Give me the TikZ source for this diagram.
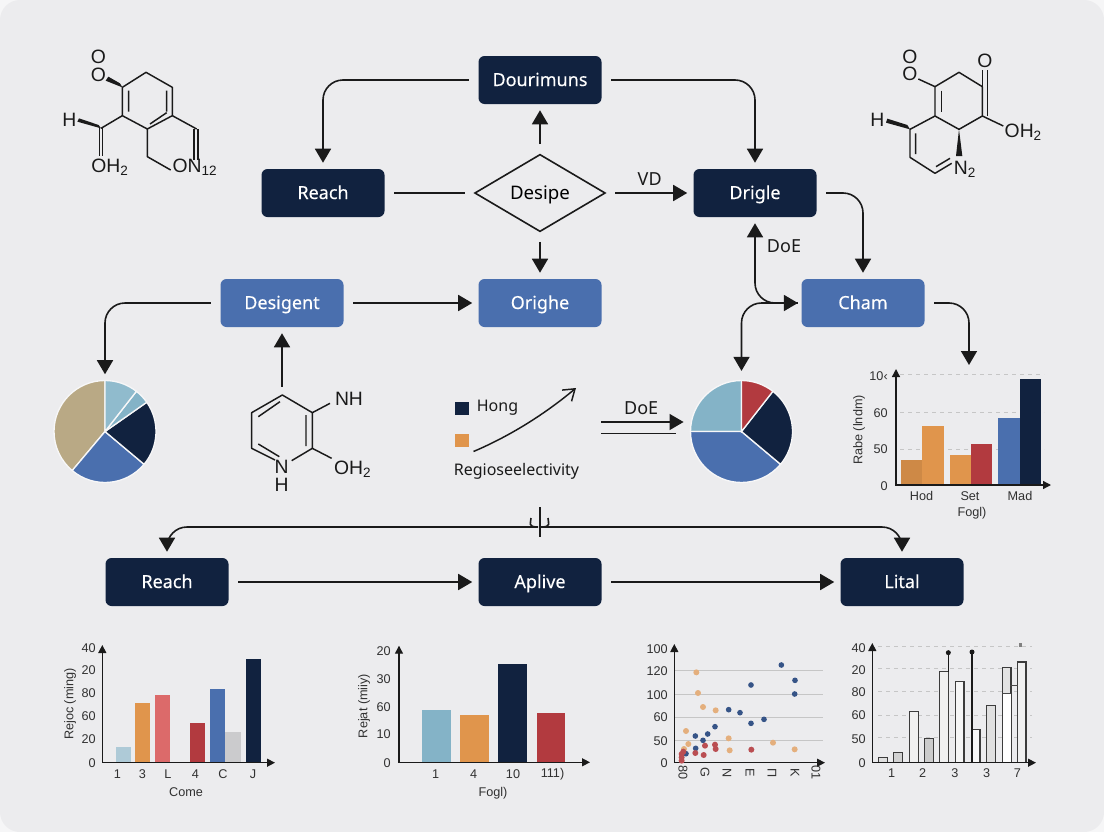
\documentclass[tikz,border=0pt]{standalone}
\usepackage{fontspec}
\setmainfont{Liberation Sans}
\newfontfamily\boxfont[FakeBold=.25]{Noto Sans}
\newfontfamily\tagfont{Noto Sans}
\usetikzlibrary{positioning,shapes.geometric,arrows.meta}
\definecolor{pagebg}{HTML}{ECECEE}
\definecolor{navy}{HTML}{11223F}
\definecolor{steel}{HTML}{4A6FAE}
\definecolor{amber}{HTML}{E0954C}
\definecolor{brick}{HTML}{B23A3F}
\definecolor{salmon}{HTML}{DC6A6A}
\definecolor{teal}{HTML}{84B3C7}
\definecolor{khaki}{HTML}{B9A985}
\definecolor{ink}{HTML}{1A1A1A}

\begin{document}
\begin{tikzpicture}[
  x=.75pt, y=-.75pt,
  box/.style={rectangle, rounded corners=4.5pt, minimum width=92.25pt, minimum height=36pt,
    inner sep=0pt, text=white, text height=11pt, text depth=2pt, font=\boxfont\bfseries\fontsize{13.5}{15}\selectfont},
  darkbox/.style={box, fill=navy},
  bluebox/.style={box, fill=steel},
  deci/.style={diamond, draw=ink, line width=1.2pt, aspect=1.7, minimum width=98pt, minimum height=58pt,
    inner sep=0pt, text height=11pt, text depth=2pt, font=\tagfont\fontsize{14}{15}\selectfont},
  piec/.style={circle, minimum size=76.5pt, inner sep=0pt},
  flow/.style={draw=ink, line width=1.2pt, rounded corners=15pt, shorten <=7pt, shorten >=4.5pt,
    -{Triangle[length=10.5pt,width=12pt]}},
  plainflow/.style={draw=ink, line width=1.2pt, shorten <=7pt, shorten >=7pt},
  tag/.style={font=\tagfont\fontsize{13.5}{15}\selectfont, text=ink},
  legendtag/.style={font=\tagfont\fontsize{12}{14}\selectfont, text=ink},
  bond/.style={draw=ink, line width=1.1pt, line join=round},
  atom/.style={font=\fontsize{14.5}{16}\selectfont, text=ink, inner sep=0pt},
  axisline/.style={draw=ink, line width=1pt, {Triangle[length=6pt,width=6pt]}-{Triangle[length=6pt,width=6pt]}},
  gridline/.style={draw=gray!45, line width=.5pt},
  griddash/.style={gridline, dashed},
  tick/.style={font=\fontsize{9.5}{11}\selectfont, text=ink!90, inner sep=0pt},
  axlabel/.style={tick},
  slice/.style={draw=white!60!pagebg, line width=1pt},
  barbox/.style={draw=ink!85, line width=.9pt}
]
  \useasboundingbox (0,0) rectangle (1104,832);
  \fill[white!50!pagebg] (0,0) rectangle (1104,832);
  \fill[pagebg, rounded corners=15pt] (0,0) rectangle (1104,832);

  % flow boxes
  \node[darkbox] (dourimuns) at (540,80) {Dourimuns};
  \node[darkbox] (reach) at (323,193) {Reach};
  \node[deci] (desipe) at (540,193) {Desipe};
  \node[darkbox] (drigle) at (755,193) {Drigle};
  \node[bluebox] (desigent) at (282,303) {Desigent};
  \node[bluebox] (orighe) at (540,303) {Orighe};
  \node[bluebox] (cham) at (863,303) {Cham};
  \node[darkbox] (reachB) at (167,582) {Reach};
  \node[darkbox] (aplive) at (540,582) {Aplive};
  \node[darkbox] (lital) at (902,582) {Lital};

  \node[piec] (pieA) at (105,431.5) {};
  \node[piec] (pieB) at (741.5,431.5) {};
  \coordinate (molC) at (282,396);
  \coordinate (chartC) at (969,371);
  \coordinate (doeA) at (601,422);
  \coordinate (doeB) at (601,433.5);
  \coordinate (doeC) at (676,433.5);
  \coordinate (teeT) at (540,507);
  \coordinate (teeB) at (540,537);
  \coordinate (teeL) at (531,518);
  \coordinate (teeLb) at (518,527);
  \coordinate (teeR) at (548,518);
  \coordinate (teeRb) at (561,527);
  \coordinate (trendA) at (473.5,451.5);
  \coordinate (trendB) at (576,388);

  % connectors
  \draw[flow] (dourimuns.west) -| (reach.north);
  \draw[flow] (dourimuns.east) -| (drigle.north);
  \draw[flow] (desipe.north) -- (dourimuns.south);
  \draw[plainflow] (reach.east) -- (desipe.west);
  \draw[flow] (desipe.east) -- node[tag, above=2pt] {VD} (drigle.west);
  \draw[flow] (desipe.south) -- (orighe.north);
  \draw[flow] (drigle.east) -| (cham.north);
  \draw[flow] (desigent.west) -| (pieA.north);
  \draw[flow] (desigent.east) -- (orighe.west);
  \draw[flow] (molC) -- (desigent.south);
  \draw[flow] (cham.east) -| (chartC);
  \draw[flow, shorten >=2.5pt, {Triangle[length=10.5pt,width=12pt]}-{Triangle[length=10.5pt,width=12pt]}, shorten <=7pt]
    (pieB.north) |- (cham.west);
  \draw[flow, shorten <=4.5pt, shorten >=2.5pt, {Triangle[length=10.5pt,width=12pt]}-] (drigle.south) |- (cham.west);
  \node[tag] (doeUp) at (784,246) {DoE};
  \draw[flow, line width=1pt, shorten <=0pt, shorten >=5pt] (doeA) -- node[tag, above=2pt, pos=.45] {DoE} (doeA -| pieB.west);
  \draw[draw=ink, line width=1pt] (doeB) -- (doeC);
  \draw[plainflow, shorten <=0pt, shorten >=0pt] (teeT) -- (teeB);
  \draw[flow, shorten <=0pt] (teeL) .. controls (531,523) and (527,527) .. (teeLb) -| (reachB.north);
  \draw[flow, shorten <=0pt] (teeR) .. controls (548,523) and (552,527) .. (teeRb) -| (lital.north);
  \draw[flow] (reachB.east) -- (aplive.west);
  \draw[flow] (aplive.east) -- (lital.west);

  % pies
  \foreach \from/\to/\col in {90/230/khaki, 230/320/steel, 320/395/navy, 395/412/teal, 412/450/teal!90!white}
    \fill[\col, slice] (pieA.center) -- ++(-\from:51) arc[start angle=-\from, end angle=-\to, radius=51] -- cycle;
  \foreach \from/\to/\col in {90/180/teal, 180/320/steel, 320/412/navy, 412/450/brick}
    \fill[\col, slice] (pieB.center) -- ++(-\from:51) arc[start angle=-\from, end angle=-\to, radius=51] -- cycle;

  % legend
  \fill[navy] (455,402) rectangle (468.5,415);
  \fill[amber] (455,433.5) rectangle (469,447);
  \node[legendtag] (hong) at (497.5,408) {Hong};
  \node[legendtag] (regio) at (516.5,471) {Regioseelectivity};
  \draw[draw=ink, line width=1.1pt, -{Straight Barb[length=8pt,width=11pt]}] (trendA) .. controls (510,436) and (545,414) .. (trendB);

  % left molecule
  \begin{scope}[shift={(40,30)}, x=.25pt, y=-.25pt]
    \draw[bond] (247,172) -- (318,127) -- (397,172) -- (397,257) -- (322,297) -- (247,257) -- cycle;
    \draw[bond] (266,182) -- (266,245) (380,182) -- (380,245) (330,282) -- (380,248);
    \draw[bond] (247,257) -- (183,295) (322,297) -- (322,380) -- (392,420) (397,257) -- (470,297);
    \draw[bond] (178,295) -- (178,378) (188,295) -- (188,378) (462,297) -- (462,390) (474,297) -- (474,390);
    \fill[ink] (247,172) -- (197,152) -- (205,140) -- (240,160) -- cycle;
    \fill[ink] (183,295) -- (112,275) -- (117,265) -- (176,285) -- cycle;
    \node[atom] (mAo) at (175,80) {O};
    \node[atom] (mAp) at (175,135) {O};
    \node[atom] (mAh) at (88,270) {H};
    \node[atom] (mAq) at (210,412) {OH\textsubscript{2}};
    \node[atom] (mAn) at (465,412) {ON\textsubscript{12}};
  \end{scope}

  % right molecule
  \begin{scope}[shift={(860,30)}, x=.25pt, y=-.25pt]
    \draw[bond] (225,170) -- (297,127) -- (367,170) -- (367,258) -- (297,298) -- (225,258) -- cycle;
    \draw[bond] (244,182) -- (244,245) (383,120) -- (383,258) (367,120) -- (367,170);
    \draw[bond] (175,147) -- (225,170) (367,258) -- (430,288) (225,258) -- (150,298) -- (150,382) -- (225,430) -- (275,400);
    \draw[bond] (167,310) -- (167,372) (228,410) -- (270,385);
    \fill[ink] (150,298) -- (78,278) -- (82,266) -- (142,285) -- cycle;
    \fill[ink] (297,298) -- (288,378) -- (307,378) -- cycle;
    \node[atom] (mBo) at (150,80) {O};
    \node[atom] (mBp) at (150,133) {O};
    \node[atom] (mBr) at (375,92) {O};
    \node[atom] (mBh) at (52,270) {H};
    \node[atom] (mBq) at (490,307) {OH\textsubscript{2}};
    \node[atom] (mBn) at (315,417) {N\textsubscript{2}};
  \end{scope}

  % middle molecule
  \begin{scope}[shift={(230,340)}, x=.25pt, y=-.25pt]
    \draw[bond] (135,360) -- (65,325) -- (65,218) -- (157,165) -- (247,218) -- (247,325) -- (185,362);
    \draw[bond] (150,185) -- (85,230) (85,312) -- (148,350) (228,225) -- (228,318);
    \draw[bond] (247,218) -- (300,190) (247,325) -- (305,355);
    \node[atom] (mCn) at (155,380) {N};
    \node[atom] (mCh) at (155,435) {H};
    \node[atom] (mCa) at (357,178) {NH};
    \node[atom] (mCq) at (368,387) {OH\textsubscript{2}};
  \end{scope}

  % chart right of the flow
  \foreach \yy in {374,412,449} \draw[griddash] (900,\yy) -- (1044,\yy);
  \foreach \xa/\xb/\yy/\col in {900.7/922.3/460/amber!92!black, 922.3/944/426/amber, 950/971/455.3/amber, 971/992/444.3/brick, 998.3/1020/418.3/steel, 1020/1041.3/379.3/navy}
    \fill[\col] (\xa,\yy) rectangle (\xb,485);
  \draw[axisline] (896,369) -- (896,485) -- (1051,485);
  \foreach \yy/\txt in {376/10‹, 413/60, 449/50, 486/0} \node[tick, anchor=east] at (888,\yy) {\txt};
  \foreach \xx/\txt in {921.5/Hod, 970/Set, 1020/Mad} \node[tick] at (\xx,496) {\txt};
  \node[axlabel] at (972,513) {Fogl)};
  \node[axlabel, rotate=90] at (859,430) {Rabe (lndm)};

  % bottom chart one
  \foreach \xa/\xb/\yy/\col in {116/131/746.7/teal!60!pagebg, 135/150/703/amber, 155/170/694.7/salmon, 190/205/723.3/brick, 209.7/225/689/steel, 225/241/732/gray!30!pagebg, 245.7/261/659/navy}
    \fill[\col] (\xa,\yy) rectangle (\xb,762.7);
  \draw[axisline] (102.3,645) -- (102.3,762.7) -- (275,762.7);
  \foreach \yy/\txt in {648.5/40, 670/20, 693/80, 716/60, 739/20, 763/0} \node[tick, anchor=east] at (96,\yy) {\txt};
  \foreach \xx/\txt in {117.5/1, 142.5/3, 168/L, 195.5/4, 223/C, 253/J} \node[tick] at (\xx,774) {\txt};
  \node[axlabel] at (186,792) {Come};
  \node[axlabel, rotate=90] at (70,704) {Rejoc (ming)};

  % bottom chart two
  \foreach \xa/\xb/\yy/\col in {421.7/451/710/teal, 459.7/489/714.7/amber, 497.7/527/664.3/navy, 536.5/565/712.7/brick}
    \fill[\col] (\xa,\yy) rectangle (\xb,762.3);
  \draw[axisline] (399,645.7) -- (399,762.3) -- (590,762.3);
  \foreach \yy/\txt in {651/20, 678.7/30, 707/60, 734/10, 763/0} \node[tick, anchor=east] at (391,\yy) {\txt};
  \foreach \xx/\txt in {435.7/1, 473.7/4, 513/10, 552.5/111)} \node[tick] at (\xx,774.5) {\txt};
  \node[axlabel] at (493,793) {Fogl)};
  \node[axlabel, rotate=90] at (364,706) {Rejat (miiy)};

  % scatter chart
  \foreach \yy in {670.7,694,717.3,740.3} \draw[gridline] (674,\yy) -- (823,\yy);
  \draw[axisline] (674.3,644) -- (674.3,762.7) -- (825,762.7);
  \foreach \yy/\txt in {649/100, 671.5/120, 694.7/100, 717/60, 740.7/50, 763/0} \node[tick, anchor=east] at (668,\yy) {\txt};
  \foreach \xx/\txt in {683/80, 705/G, 727/N, 750/E, 772/Π, 795/K, 816/01} \node[tick, rotate=-90] at (\xx,772.7) {\txt};
  \begin{scope}[shift={(630,630)}, x=.25pt, y=-.25pt]
    \foreach \xx/\yy in {199/127, 204/189, 219/231, 257/241, 168/303, 296/325, 299/361, 429/338, 494/358, 175/342, 162/357}
      \fill[amber!70!pagebg] (\xx,\yy) circle[radius=9];
    \foreach \xx/\yy in {454/105, 495/151, 363/165, 296/239, 330/248, 402/268, 363/280, 255/290, 233/312, 196/318, 219/331, 197/355, 168/371, 494/192}
      \fill[steel!65!navy] (\xx,\yy) circle[radius=8.5];
    \foreach \xx/\yy in {225/347, 221/375, 196/369, 255/344, 257/357, 364/359, 155/372, 155/382, 155/392, 160/365}
      \fill[brick!90!white] (\xx,\yy) circle[radius=9];
  \end{scope}

  % outlined bars
  \foreach \yy in {646,668.7,691.7,715,737.7} \draw[griddash] (878,\yy) -- (1032,\yy);
  \begin{scope}[shift={(630,630)}, x=.25pt, y=-.25pt]
    \foreach \xa/\xb/\yy/\col in {745/772/383/gray!25, 790/818/367/gray!35, 838/866/245/gray!12, 883/910/325/gray!40, 928/955/125/gray!12, 976/1002/154/gray!8, 1028/1050/298/gray!5, 1070/1097/226/gray!25, 1117/1143/112/gray!22, 1163/1188/96/gray!12}
      \draw[barbox, fill=\col] (\xa,398) rectangle (\xb,\yy);
    \fill[white] (1118,190) rectangle (1142,397);
    \draw[ink!80, line width=.6pt] (1117,190) -- (1143,190) (1141,167) -- (1163,167);
    \draw[ink, line width=1pt] (955,125) -- (955,68);
    \draw[ink, line width=1.3pt] (1026,398) -- (1026,66);
    \fill[ink] (955,68) circle[radius=7.5] (1026,66) circle[radius=7.5];
    \fill[gray] (1167,40) rectangle (1176,50);
  \end{scope}
  \draw[axisline] (872.3,643) -- (872.3,762.7) -- (1036,762.7);
  \foreach \yy/\txt in {648/40, 670/20, 692/80, 715/60, 739/50, 763/0} \node[tick, anchor=east] at (866,\yy) {\txt};
  \foreach \xx/\txt in {891.7/1, 922.7/2, 955/3, 986.7/3, 1017.3/7} \node[tick] at (\xx,773) {\txt};

\end{tikzpicture}
\end{document}
